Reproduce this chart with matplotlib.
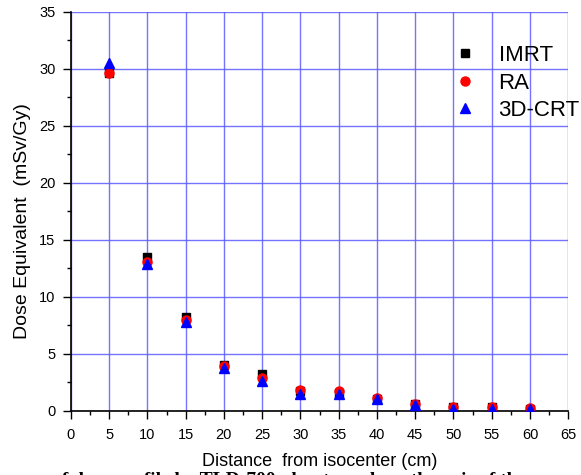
import matplotlib
matplotlib.use('Agg')
import matplotlib.pyplot as plt
from matplotlib.ticker import MultipleLocator

plt.rcParams['font.family'] = ['Liberation Sans', 'DejaVu Sans']

distance = [5, 10, 15, 20, 25, 30, 35, 40, 45, 50, 55, 60]
imrt = [29.6, 13.5, 8.2, 4.0, 3.2, 1.7, 1.6, 1.0, 0.6, 0.3, 0.3, 0.2]
ra = [29.6, 13.1, 8.0, 3.9, 2.9, 1.8, 1.7, 1.1, 0.6, 0.35, 0.35, 0.25]
crt3d = [30.5, 12.9, 7.8, 3.8, 2.6, 1.5, 1.5, 1.0, 0.5, 0.2, 0.2, 0.15]

fig = plt.figure(figsize=(5.81, 4.75), dpi=100)
ax = fig.add_axes([0.122, 0.135, 0.856, 0.84])

ax.plot(distance, imrt, 's', color='black', ms=6, label='IMRT', zorder=3)
ax.plot(distance, ra, 'o', color='red', ms=6.5, label='RA', zorder=3)
ax.plot(distance, crt3d, '^', color='blue', ms=7.5, label='3D-CRT', zorder=3)

ax.set_xlim(0, 65)
ax.set_ylim(0, 35)
ax.xaxis.set_major_locator(MultipleLocator(5))
ax.xaxis.set_minor_locator(MultipleLocator(2.5))
ax.yaxis.set_major_locator(MultipleLocator(5))
ax.yaxis.set_minor_locator(MultipleLocator(2.5))
ax.tick_params(which='major', direction='out', length=6, width=1, labelsize=10.5)
ax.tick_params(which='minor', direction='out', length=3, width=1)
ax.tick_params(axis='x', which='major', pad=6.5)
ax.tick_params(axis='y', which='major', pad=5)

ax.spines['top'].set_visible(False)
ax.spines['right'].set_visible(False)
ax.spines['left'].set_linewidth(1.2)
ax.spines['bottom'].set_linewidth(1.2)

ax.grid(True, which='major', color='#5c5cff', lw=1.0, alpha=0.85, zorder=0)
ax.set_axisbelow(True)
fig.canvas.draw()
for gl in ax.xaxis.get_gridlines()[-1:] + ax.yaxis.get_gridlines()[-1:]:
    gl.set_visible(False)

ax.set_xlabel('Distance  from isocenter (cm)', fontsize=13, labelpad=8)
ax.set_ylabel('Dose Equivalent  (mSv/Gy)', fontsize=14)
ax.yaxis.set_label_coords(-0.08, 0.475)

ax.legend(loc='upper right', bbox_to_anchor=(0.998, 0.905),
          bbox_transform=fig.transFigure, frameon=False, fontsize=16,
          handletextpad=0.5, labelspacing=0.29, borderaxespad=0, borderpad=0)

fig.text(0.09, -0.012, 'of dose profile by TLD-700 phantom along the axis of the',
         fontsize=14, fontweight='bold', family='Liberation Serif', va='center')

fig.savefig('out.png', dpi=100)
